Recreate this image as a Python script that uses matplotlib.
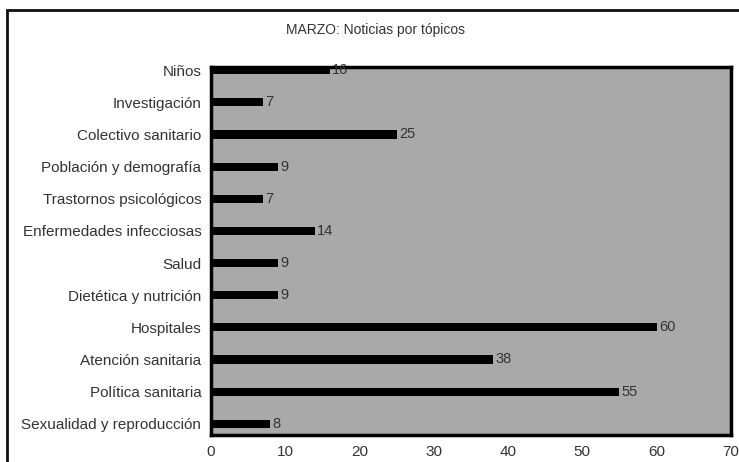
import matplotlib.pyplot as plt
from matplotlib.patches import Rectangle

plt.rcParams['font.family'] = ['Liberation Sans', 'DejaVu Sans']

# data, top to bottom as in the chart
categories = ['Niños', 'Investigación', 'Colectivo sanitario', 'Población y demografía',
              'Trastornos psicológicos', 'Enfermedades infecciosas', 'Salud',
              'Dietética y nutrición', 'Hospitales', 'Atención sanitaria',
              'Política sanitaria', 'Sexualidad y reproducción']
values = [16, 7, 25, 9, 7, 14, 9, 9, 60, 38, 55, 8]
xticks = [0, 10, 20, 30, 40, 50, 60, 70]

fig = plt.figure(figsize=(7.39, 4.62), dpi=100)
ax = fig.add_axes([0.2855, 0.0584, 0.7035, 0.7966])

# outer frame of the chart
fig.patches.append(Rectangle((7 / 739, -0.05), 1.1, 1 - 10 / 462 + 0.05,
                             transform=fig.transFigure, fill=False,
                             edgecolor='#111111', linewidth=2))

n = len(categories)
ypos = [n - 1 - i for i in range(n)]
ax.barh(ypos, values, height=0.25, color='black')
for y, v in zip(ypos, values):
    ax.text(v + 0.3, y, str(v), va='center', ha='left', fontsize=10.5, color='#333333')

ax.set_facecolor('#a9a9a9')
ax.set_xlim(0, 70)
ax.set_ylim(-0.35, n - 1 + 0.1)
ax.set_yticks(ypos)
ax.set_yticklabels(categories, fontsize=11)
ax.set_xticks(xticks)
ax.tick_params(axis='both', length=0, colors='#333333')
ax.tick_params(axis='x', pad=7, labelsize=11)
ax.tick_params(axis='y', pad=7)
for s in ax.spines.values():
    s.set_linewidth(2.5)
    s.set_color('black')

fig.text(0.508, 1 - 30 / 462, 'MARZO: Noticias por tópicos', ha='center', va='center',
         fontsize=10, color='#333333')

fig.savefig('out.png', dpi=100)
